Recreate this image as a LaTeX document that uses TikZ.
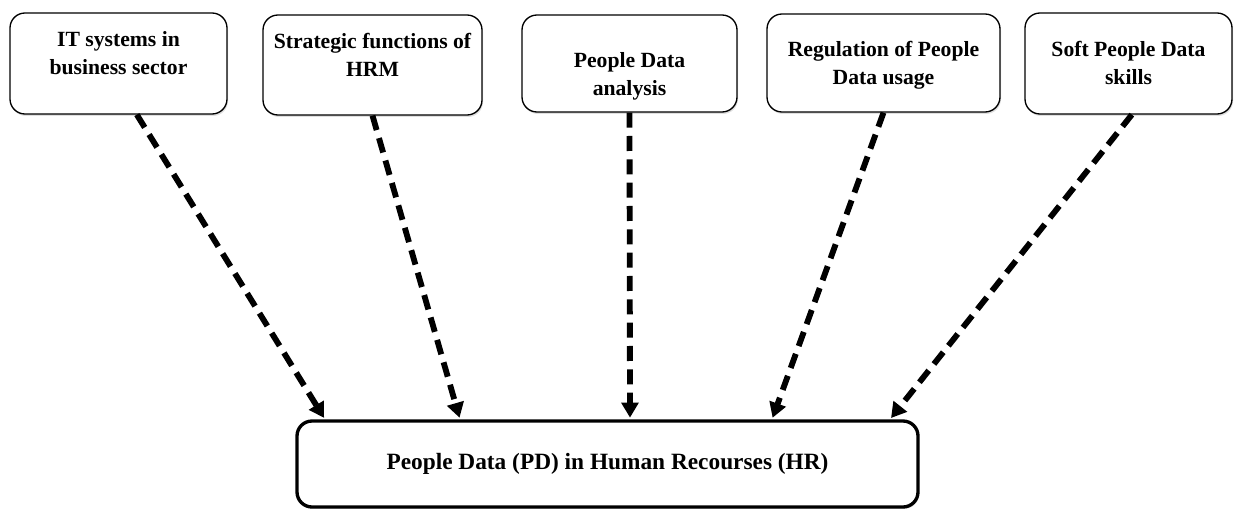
\documentclass[tikz,border=0pt]{standalone}
\usepackage{fontspec}
\setmainfont{Liberation Serif}
\usetikzlibrary{arrows.meta,shadows}

\begin{document}
\begin{tikzpicture}[x=0.6pt,y=-0.6pt]
\useasboundingbox (0,0) rectangle (1234,509);
\begin{scope}[every node/.style={draw,thick,rounded corners=9pt,align=center,fill=white,
              font=\fontsize{13}{16.8}\selectfont\bfseries,text depth=3pt,
              drop shadow={shadow xshift=0.6pt,shadow yshift=-1.2pt,opacity=0.25}}]
    \node[minimum width=130.2pt,minimum height=60.6pt,text height=16.8pt] (IT) at (118.5,63.5) {IT systems in\\business sector};
    \node[minimum width=131.4pt,minimum height=60pt,text height=16.8pt] (HRM) at (372.5,65) {Strategic functions of\\HRM};
    \node[minimum width=129pt,minimum height=58.2pt,text height=42pt] (PDA) at (629.5,63.5) {People Data\\analysis};
    \node[minimum width=139.8pt,minimum height=58.8pt,text height=28.8pt] (Reg) at (883.5,63) {Regulation of People\\Data usage};
    \node[minimum width=124.2pt,minimum height=60.6pt,text height=28.8pt] (Soft) at (1128.5,63.5) {Soft People Data\\skills};

    \node[drop shadow={opacity=0},line width=2pt,minimum width=372.6pt,minimum height=51.6pt,
          text height=10pt,text depth=3pt,
          font=\fontsize{14}{17}\selectfont\bfseries] (PD) at (607.5,464) {People Data (PD) in Human Recourses (HR)};
\end{scope}

\begin{scope}[every edge/.style={draw=black,line width=3.5pt,dash pattern=on 9pt off 5pt,
              -{Triangle[length=9pt,width=10pt]},shorten >=1pt}]
    \path ([xshift=11pt]IT.south) edge ([xshift=-169.5pt]PD.north);
    \path (HRM.south) edge ([xshift=-88.5pt]PD.north);
    \path (PDA.south) edge ([xshift=13.5pt]PD.north);
    \path (Reg.south) edge ([xshift=98.7pt]PD.north);
    \path ([xshift=2pt]Soft.south) edge ([xshift=169.5pt]PD.north);
\end{scope}
\end{tikzpicture}
\end{document}
